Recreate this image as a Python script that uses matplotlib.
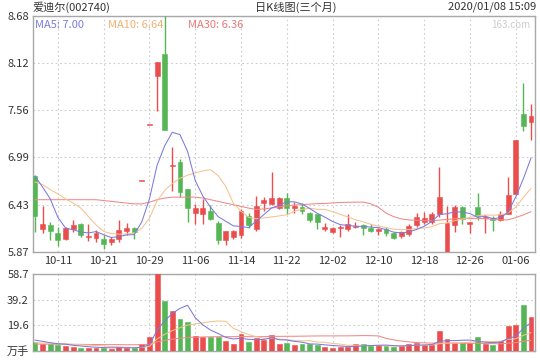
import numpy as np
import pandas as pd
import matplotlib
matplotlib.use("Agg")
import matplotlib.pyplot as plt

plt.rcParams['font.family'] = ['Noto Sans CJK SC', 'DejaVu Sans']

# ---------------- data ----------------
opens = [6.77, 6.135, 6.194, 6.088, 6.017, 6.135, 6.206, 6.044, 6.03, 6.017,
         5.988, 6.017, 6.118, 6.154, 6.72, 7.39, 7.97, 8.23, 6.888, 6.943,
         6.612, 6.33, 6.325, 6.352, 6.213, 6.008, 6.047, 6.068, 6.292, 6.135,
         6.455, 6.443, 6.39, 6.514, 6.39, 6.403, 6.332, 6.316, 6.14, 6.107,
         6.147, 6.135, 6.166, 6.186, 6.158, 6.115, 6.135, 6.088, 6.056, 6.08,
         6.194, 6.225, 6.22, 6.325, 5.87, 6.186, 6.403, 6.206, 6.403, 6.269,
         6.277, 6.253, 6.325, 6.561, 7.515, 7.417]
highs = [6.78, 6.41, 6.23, 6.16, 6.16, 6.25, 6.21, 6.2, 6.127, 6.07,
         6.05, 6.245, 6.21, 6.166, 6.72, 7.39, 8.13, 8.68, 7.12, 6.975,
         6.62, 6.443, 6.5, 6.43, 6.233, 6.115, 6.127, 6.38, 6.33, 6.54,
         6.52, 6.817, 6.52, 6.57, 6.46, 6.45, 6.343, 6.325, 6.213, 6.166,
         6.186, 6.325, 6.225, 6.198, 6.2, 6.158, 6.16, 6.1, 6.12, 6.2,
         6.33, 6.343, 6.34, 6.884, 6.41, 6.423, 6.415, 6.225, 6.573, 6.304,
         6.292, 6.355, 6.766, 7.204, 7.88, 7.626]
lows = [6.10, 6.09, 6.01, 5.94, 6.01, 6.107, 6.04, 6.0, 5.99, 5.90,
        5.95, 5.99, 6.07, 6.017, 6.72, 7.39, 7.547, 7.32, 6.59, 6.52,
        6.225, 6.206, 6.206, 6.245, 5.958, 5.95, 6.02, 6.035, 6.147, 6.118,
        6.355, 6.423, 6.38, 6.325, 6.33, 6.325, 6.225, 6.135, 6.118, 6.095,
        6.04, 6.118, 6.147, 6.068, 6.1, 6.068, 6.06, 6.02, 6.035, 6.06,
        6.16, 6.206, 6.2, 6.284, 5.87, 6.107, 6.206, 6.088, 6.253, 6.095,
        6.118, 6.237, 6.316, 6.55, 7.31, 7.204]
closes = [6.29, 6.198, 6.118, 6.008, 6.147, 6.186, 6.068, 6.06, 6.088, 5.96,
          6.02, 6.127, 6.154, 6.107, 6.72, 7.39, 8.13, 7.32, 6.908, 6.58,
          6.39, 6.395, 6.39, 6.257, 6.008, 6.115, 6.12, 6.355, 6.186, 6.41,
          6.49, 6.514, 6.514, 6.395, 6.41, 6.355, 6.253, 6.225, 6.166, 6.154,
          6.166, 6.206, 6.18, 6.147, 6.118, 6.135, 6.088, 6.028, 6.1, 6.174,
          6.284, 6.277, 6.316, 6.52, 6.213, 6.403, 6.265, 6.225, 6.292, 6.284,
          6.253, 6.325, 6.541, 7.204, 7.369, 7.487]
volumes = [6.75, 5.0, 5.0, 4.2, 3.45, 2.4, 2.2, 2.2, 2.2, 2.2,
           1.4, 2.7, 2.2, 1.7, 5.0, 10.1, 58.7, 38.2, 30.3, 24.2,
           22.1, 11.1, 10.6, 10.6, 10.6, 7.5, 5.0, 13.0, 6.75, 9.6,
           8.0, 11.9, 5.0, 5.8, 4.2, 5.0, 5.3, 4.2, 2.9, 2.0,
           2.9, 2.9, 5.0, 4.7, 3.45, 4.2, 3.45, 2.9, 3.45, 5.0,
           5.5, 4.2, 4.7, 15.0, 8.6, 5.5, 5.5, 5.5, 10.1, 5.0,
           4.2, 7.3, 18.8, 19.6, 34.9, 25.9]

# moving-average values at the start of the window (read from the picture,
# they depend on trading days before the first candle)
ma5_head = [6.77, 6.64, 6.50, 6.28]
ma10_head = [6.70, 6.67, 6.61, 6.56, 6.50, 6.45, 6.39, 6.29, 6.19]
ma30_head = [6.49] * 9 + [6.48, 6.47, 6.46, 6.45, 6.44, 6.44, 6.46, 6.49, 6.51,
                          6.52, 6.52, 6.52, 6.52, 6.51, 6.49, 6.47, 6.45, 6.43,
                          6.41, 6.39]
vma5_head = [8.0, 7.0, 6.0, 5.2]
vma10_head = [6.0, 5.8, 5.6, 5.3, 5.0, 4.7, 4.4, 4.1, 3.8]
vma30_head = [5.0, 4.9, 4.9, 4.8, 4.8, 4.7, 4.7, 4.6, 4.6, 4.5, 4.5, 4.5, 4.4,
              4.4, 4.5, 4.7, 6.6, 7.8, 8.7, 9.4, 10.0, 10.2, 10.4, 10.5, 10.6,
              10.6, 10.6, 10.7, 10.6]

tick_idx = [3, 9, 15, 21, 27, 33, 39, 45, 51, 57, 63]
tick_labels = ['10-11', '10-21', '10-29', '11-06', '11-14', '11-22',
               '12-02', '12-10', '12-18', '12-26', '01-06']
price_ticks = [5.87, 6.432, 6.994, 7.556, 8.118, 8.68]
price_tick_labels = ['5.87', '6.43', '6.99', '7.56', '8.12', '8.68']
vol_ticks = [0, 19.57, 39.13, 58.7]
vol_tick_labels = ['万手', '19.6', '39.2', '58.7']

title_left = '爱迪尔(002740)'
title_mid = '日K线图(三个月)'
title_right = '2020/01/08 15:09'
legend_texts = ['MA5: 7.00', 'MA10: 6.64', 'MA30: 6.36']
watermark = '163.com'

# ---------------- styles ----------------
RED = '#eb4c4c'
GREEN = '#55b655'
C_MA5 = '#7a7ae0'
C_MA10 = '#f6c28e'
C_MA30 = '#f08888'
GRID = '#cccccc'
FRAME = '#a8a8a8'
TXT = '#333333'


def ma_with_head(values, n, head):
    s = pd.Series(values, dtype=float).rolling(n).mean().to_numpy()
    s[:len(head)] = head
    return s


n = len(closes)
x = np.arange(n)
o = np.array(opens); h = np.array(highs); l = np.array(lows); c = np.array(closes)
v = np.array(volumes)
colors = [RED if cc >= oo else GREEN for oo, cc in zip(o, c)]

W, H = 540, 360
fig = plt.figure(figsize=(W / 100, H / 100), dpi=100)
fig.patch.set_facecolor('white')

def fx(px):
    return px / W

def fy(py):
    return 1 - py / H

left, right = 33, 535
ax = fig.add_axes([fx(left), fy(251.7), fx(right - left), (251.7 - 16) / H])
axv = fig.add_axes([fx(left), fy(350.5), fx(right - left), (350.5 - 274) / H])

xlim = (-0.26, 65.53)
LW = 0.75

# ---------- price panel ----------
body_w = 0.64
for i in range(n):
    ax.vlines(x[i], l[i], h[i], color=colors[i], linewidth=1.0, zorder=3)
    lo_b = min(o[i], c[i]); hi_b = max(o[i], c[i])
    ht = max(hi_b - lo_b, 0.012)
    ax.bar(x[i], ht, bottom=lo_b - (ht - (hi_b - lo_b)) / 2, width=body_w,
           color=colors[i], edgecolor=colors[i], linewidth=0.4, zorder=3)

ma5 = ma_with_head(closes, 5, ma5_head)
ma10 = ma_with_head(closes, 10, ma10_head)
ma30 = ma_with_head(closes, 30, ma30_head)
ax.plot(x, ma30, color=C_MA30, lw=LW, zorder=4)
ax.plot(x, ma10, color=C_MA10, lw=LW, zorder=4)
ax.plot(x, ma5, color=C_MA5, lw=LW, zorder=5)

ax.set_xlim(*xlim)
ax.set_ylim(price_ticks[0], price_ticks[-1])
ax.set_yticks(price_ticks)
ax.set_yticklabels(price_tick_labels)
ax.set_xticks(tick_idx)
ax.set_xticklabels(tick_labels)

# ---------- volume panel ----------
for i in range(n):
    axv.bar(x[i], v[i], width=body_w, color=colors[i], edgecolor=colors[i],
            linewidth=0.4, zorder=3)
vma5 = ma_with_head(volumes, 5, vma5_head)
vma10 = ma_with_head(volumes, 10, vma10_head)
vma30 = ma_with_head(volumes, 30, vma30_head)
axv.plot(x, vma30, color=C_MA30, lw=LW, zorder=4)
axv.plot(x, vma10, color=C_MA10, lw=LW, zorder=4)
axv.plot(x, vma5, color=C_MA5, lw=LW, zorder=5)
axv.set_xlim(*xlim)
axv.set_ylim(0, vol_ticks[-1])
axv.set_yticks(vol_ticks)
axv.set_yticklabels(vol_tick_labels)
axv.set_xticks(tick_idx)
axv.tick_params(axis='x', labelbottom=False)

for a in (ax, axv):
    a.set_facecolor('white')
    for sp in a.spines.values():
        sp.set_color(FRAME)
        sp.set_linewidth(1.0)
    a.tick_params(length=0, labelsize=8, colors=TXT, pad=3)
    a.grid(True, color=GRID, linestyle=(0, (1.5, 2.5)), linewidth=0.8, zorder=0)
    a.set_axisbelow(True)

# ---------- texts ----------
fs = 8
fig.text(fx(33), fy(7), title_left, ha='left', va='center', fontsize=fs, color=TXT)
fig.text(fx(296), fy(7), title_mid, ha='center', va='center', fontsize=fs, color=TXT)
fig.text(fx(536), fy(7), title_right, ha='right', va='center', fontsize=fs, color=TXT)
fig.text(fx(35), fy(25), legend_texts[0], ha='left', va='center', fontsize=fs, color=C_MA5)
fig.text(fx(108), fy(25), legend_texts[1], ha='left', va='center', fontsize=fs, color='#f0b070')
fig.text(fx(188), fy(25), legend_texts[2], ha='left', va='center', fontsize=fs, color='#e87878')
fig.text(fx(530), fy(25), watermark, ha='right', va='center', fontsize=fs - 1, color='#cccccc')

fig.savefig('out.png', dpi=100)
